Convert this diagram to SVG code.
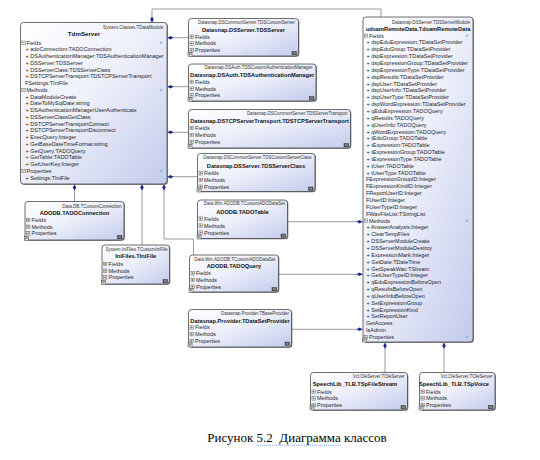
<svg xmlns="http://www.w3.org/2000/svg" xmlns:xlink="http://www.w3.org/1999/xlink" width="540" height="460" viewBox="0 0 540 460">
<defs>
<linearGradient id="g" x1="0" y1="0" x2="1" y2="1">
<stop offset="0" stop-color="#ffffff"/>
<stop offset="0.45" stop-color="#eef0fa"/>
<stop offset="1" stop-color="#c3cbec"/>
</linearGradient>
<g id="mi"><rect x="0" y="-1.7" width="3.4" height="3.4" fill="#fff" stroke="#444" stroke-width="0.45"/><path d="M0.7 0h2" stroke="#222" stroke-width="0.5"/></g>
<g id="pl"><rect x="0" y="-1.7" width="3.4" height="3.4" fill="#fff" stroke="#444" stroke-width="0.45"/><path d="M0.7 0h2M1.7 -1v2" stroke="#222" stroke-width="0.5"/></g>
<g id="bl"><rect x="0" y="0" width="4" height="4" fill="#fff" stroke="#333" stroke-width="0.5"/><path d="M1.2 3.3V0.9h1.2a0.7 0.7 0 0 1 0 1.4H1.2" fill="none" stroke="#222" stroke-width="0.5"/></g>
<g id="br"><rect x="0" y="0" width="4.5" height="3.4" fill="#555" stroke="#222" stroke-width="0.4"/><path d="M1 1.2h2.5M1 2.2h2.5" stroke="#ddd" stroke-width="0.4"/></g>
<g id="ex"><path d="M-1.3 0h2.6M0 -1.3v2.6" stroke="#5aa0e0" stroke-width="0.6"/></g>
<path id="dv" d="M0 0l1.8 3l-1.8 3l-1.8 -3z"/>
<path id="dh" d="M0 0l3 -1.8l3 1.8l-3 1.8z"/>
</defs>
<style>
.box{fill:url(#g);stroke:#4a4a4a;stroke-width:0.8}
.sh{fill:#6a6a6a}
.hdr{font-family:"Liberation Sans",Arial,sans-serif;font-size:4.5px;fill:#333;text-anchor:end}
.ttl{font-family:"Liberation Sans",Arial,sans-serif;font-size:5.7px;font-weight:bold;fill:#111;text-anchor:middle}
.m{font-family:"Liberation Sans",Arial,sans-serif;font-size:5.5px;fill:#1e1e2a}
.con{stroke:#7d7f8c;stroke-width:0.8;fill:none}
.dia{fill:#1c2a8e}
.cap{font-family:"Liberation Serif","Times New Roman",serif;font-size:13px;fill:#000;text-anchor:middle}
</style>
<rect width="540" height="460" fill="#ffffff"/>

<g id="connectors">
<path class="con" d="M152 22.5V9H381V17"/>
<use href="#dv" x="152" y="16.5" class="dia"/>
<path class="con" d="M167 37.7H188.5"/>
<use href="#dh" x="167.5" y="37.7" class="dia"/>
<path class="con" d="M167 86.7H188.5"/>
<use href="#dh" x="167.5" y="86.7" class="dia"/>
<path class="con" d="M167 132.3H188.5"/>
<use href="#dh" x="167.5" y="132.3" class="dia"/>
<path class="con" d="M167 176.7H197.5"/>
<use href="#dh" x="167.5" y="176.7" class="dia"/>
<path class="con" d="M74.5 184V201.5"/>
<use href="#dv" x="74.5" y="184.5" class="dia"/>
<path class="con" d="M142 184V245"/>
<use href="#dv" x="142" y="184.5" class="dia"/>
<path class="con" d="M164 184V239H193.5V255"/>
<use href="#dv" x="164" y="184.5" class="dia"/>
<path class="con" d="M287.7 221.7H363"/>
<use href="#dh" x="356.5" y="221.7" class="dia"/>
<path class="con" d="M278.5 274.3H363"/>
<use href="#dh" x="356.5" y="274.3" class="dia"/>
<path class="con" d="M291.7 329.3H363"/>
<use href="#dh" x="356.5" y="329.3" class="dia"/>
<path class="con" d="M385 342.5V372.5"/>
<use href="#dv" x="385" y="342.8" class="dia"/>
<path class="con" d="M444 342.5V372.5"/>
<use href="#dv" x="444" y="342.8" class="dia"/>
</g>

<g id="TdmServer">
<rect class="sh" x="21.3" y="23.3" width="146.5" height="161.5" rx="3"/>
<rect class="box" x="20.5" y="22.5" width="146.5" height="161.5" rx="3"/>
<text class="hdr" x="163.5" y="28.6">System.Classes.TDataModule</text>
<text class="ttl" x="84" y="36.1" style="font-size:6.2px">TdmServer</text>
<use href="#mi" x="21.8" y="42.7"/><text class="m" x="26.5" y="44.6">Fields</text><use href="#ex" x="161" y="42.7"/>
<text class="m" x="25.5" y="51.35">+ adoConnection:TADOConnection</text>
<text class="m" x="25.5" y="58.1">+ DSAuthenticationManager:TDSAuthenticationManager</text>
<text class="m" x="25.5" y="64.85">+ DSServer:TDSServer</text>
<text class="m" x="25.5" y="71.6">+ DSServerClass:TDSServerClass</text>
<text class="m" x="25.5" y="78.35">+ DSTCPServerTransport:TDSTCPServerTransport</text>
<text class="m" x="25" y="85.1">FSettings:TIniFile</text>
<use href="#mi" x="21.8" y="89.95"/><text class="m" x="26.5" y="91.85">Methods</text><use href="#ex" x="161" y="89.95"/>
<text class="m" x="25.5" y="98.6">+ DataModuleCreate</text>
<text class="m" x="25.5" y="105.35">+ DateToMySqlDate:string</text>
<text class="m" x="25.5" y="112.1">+ DSAuthenticationManagerUserAuthenticate</text>
<text class="m" x="25.5" y="118.85">+ DSServerClassGetClass</text>
<text class="m" x="25.5" y="125.6">+ DSTCPServerTransportConnect</text>
<text class="m" x="25.5" y="132.35">+ DSTCPServerTransportDisconnect</text>
<text class="m" x="25.5" y="139.1">+ ExecQuery:Integer</text>
<text class="m" x="25.5" y="145.85">+ GetBaseDateTimeFormat:string</text>
<text class="m" x="25.5" y="152.6">+ GetQuery:TADOQuery</text>
<text class="m" x="25.5" y="159.35">+ GetTable:TADOTable</text>
<text class="m" x="25.5" y="166.1">+ GetUserKey:Integer</text>
<use href="#mi" x="21.8" y="170.95"/><text class="m" x="26.5" y="172.85">Properties</text><use href="#ex" x="161" y="170.95"/>
<text class="m" x="25.5" y="179.6">+ Settings:TIniFile</text>
</g>

<g id="TDSServer">
<rect class="sh" x="189.3" y="19.3" width="110" height="37.5" rx="3"/>
<rect class="box" x="188.5" y="18.5" width="110" height="37.5" rx="3"/>
<text class="hdr" x="295" y="24.3">Datasnap.DSCommonServer.TDSCustomServer</text>
<text class="ttl" x="243.5" y="32.1">Datasnap.DSServer.TDSServer</text>
<use href="#pl" x="190" y="36.7"/><text class="m" x="195" y="38.6">Fields</text>
<use href="#pl" x="190" y="43.5"/><text class="m" x="195" y="45.4">Methods</text>
<use href="#pl" x="190" y="50.3"/><text class="m" x="195" y="52.2">Properties</text>
<use href="#bl" x="188" y="52.5"/><use href="#br" x="292" y="51.5"/>
</g>

<g id="TDSAuthenticationManager">
<rect class="sh" x="189.3" y="64.8" width="127.5" height="37" rx="3"/>
<rect class="box" x="188.5" y="64" width="127.5" height="37" rx="3"/>
<text class="hdr" x="312.5" y="69.3">Datasnap.DSAuth.TDSCustomAuthenticationManager</text>
<text class="ttl" x="252.2" y="76.6">Datasnap.DSAuth.TDSAuthenticationManager</text>
<use href="#pl" x="190" y="81.8"/><text class="m" x="195" y="83.7">Fields</text>
<use href="#pl" x="190" y="88.6"/><text class="m" x="195" y="90.5">Methods</text>
<use href="#pl" x="190" y="95.4"/><text class="m" x="195" y="97.3">Properties</text>
<use href="#bl" x="188" y="97.5"/><use href="#br" x="309.5" y="96.5"/>
</g>

<g id="TDSTCPServerTransport">
<rect class="sh" x="189.3" y="110.3" width="162" height="38.5" rx="3"/>
<rect class="box" x="188.5" y="109.5" width="162" height="38.5" rx="3"/>
<text class="hdr" x="347.5" y="115.1">Datasnap.DSCommonServer.TDSServerTransport</text>
<text class="ttl" x="269.5" y="122.8">Datasnap.DSTCPServerTransport.TDSTCPServerTransport</text>
<use href="#pl" x="190" y="128"/><text class="m" x="195" y="129.9">Fields</text>
<use href="#pl" x="190" y="134.9"/><text class="m" x="195" y="136.8">Methods</text>
<use href="#pl" x="190" y="141.8"/><text class="m" x="195" y="143.7">Properties</text>
<use href="#bl" x="188" y="144.5"/><use href="#br" x="344" y="143.5"/>
</g>

<g id="TDSServerClass">
<rect class="sh" x="198.3" y="154.3" width="117.5" height="38" rx="3"/>
<rect class="box" x="197.5" y="153.5" width="117.5" height="38" rx="3"/>
<text class="hdr" x="311.5" y="159.3">Datasnap.DSCommonServer.TDSCustomServerClass</text>
<text class="ttl" x="256" y="168.1">Datasnap.DSServer.TDSServerClass</text>
<use href="#pl" x="199" y="173.3"/><text class="m" x="204" y="175.2">Fields</text>
<use href="#pl" x="199" y="180"/><text class="m" x="204" y="181.9">Methods</text>
<use href="#pl" x="199" y="186.7"/><text class="m" x="204" y="188.6">Properties</text>
<use href="#bl" x="197" y="188"/><use href="#br" x="308.5" y="187"/>
</g>

<g id="TADOTable">
<rect class="sh" x="198.3" y="200.8" width="90" height="38.5" rx="3"/>
<rect class="box" x="197.5" y="200" width="90" height="38.5" rx="3"/>
<text class="hdr" x="285" y="205.3">Data.Win.ADODB.TCustomADODataSet</text>
<text class="ttl" x="242.5" y="213.6">ADODB.TADOTable</text>
<use href="#pl" x="199" y="218.6"/><text class="m" x="204" y="220.5">Fields</text>
<use href="#pl" x="199" y="225.6"/><text class="m" x="204" y="227.5">Methods</text>
<use href="#pl" x="199" y="232.6"/><text class="m" x="204" y="234.5">Properties</text>
<use href="#bl" x="197" y="235"/><use href="#br" x="281" y="234"/>
</g>

<g id="TADOConnection">
<rect class="sh" x="25.8" y="202.3" width="99" height="38.5" rx="3"/>
<rect class="box" x="25" y="201.5" width="99" height="38.5" rx="3"/>
<text class="hdr" x="121.5" y="207.6">Data.DB.TCustomConnection</text>
<text class="ttl" x="74.5" y="214.8">ADODB.TADOConnection</text>
<use href="#pl" x="26.5" y="220"/><text class="m" x="31.5" y="221.9">Fields</text>
<use href="#pl" x="26.5" y="226.7"/><text class="m" x="31.5" y="228.6">Methods</text>
<use href="#pl" x="26.5" y="233.4"/><text class="m" x="31.5" y="235.3">Properties</text>
<use href="#bl" x="24.5" y="236.5"/><use href="#br" x="117.5" y="235.5"/>
</g>

<g id="TIniFile">
<rect class="sh" x="102.8" y="245.8" width="67.5" height="39" rx="3"/>
<rect class="box" x="102" y="245" width="67.5" height="39" rx="3"/>
<text class="hdr" x="167.5" y="250.6">System.IniFiles.TCustomIniFile</text>
<text class="ttl" x="135.7" y="258.1">IniFiles.TIniFile</text>
<use href="#pl" x="103.5" y="264"/><text class="m" x="108.5" y="265.9">Fields</text>
<use href="#pl" x="103.5" y="270.7"/><text class="m" x="108.5" y="272.6">Methods</text>
<use href="#pl" x="103.5" y="277.4"/><text class="m" x="108.5" y="279.3">Properties</text>
<use href="#bl" x="101.5" y="280.5"/><use href="#br" x="163" y="279.5"/>
</g>

<g id="TADOQuery">
<rect class="sh" x="190.3" y="255.8" width="89" height="37" rx="3"/>
<rect class="box" x="189.5" y="255" width="89" height="37" rx="3"/>
<text class="hdr" x="275.5" y="260.6">Data.Win.ADODB.TCustomADODataSet</text>
<text class="ttl" x="234" y="268.1">ADODB.TADOQuery</text>
<use href="#pl" x="191" y="273.3"/><text class="m" x="196" y="275.2">Fields</text>
<use href="#pl" x="191" y="280"/><text class="m" x="196" y="281.9">Methods</text>
<use href="#pl" x="191" y="286.7"/><text class="m" x="196" y="288.6">Properties</text>
<use href="#bl" x="189" y="288.5"/><use href="#br" x="272" y="287.5"/>
</g>

<g id="TDataSetProvider">
<rect class="sh" x="189.3" y="310.3" width="103" height="37.5" rx="3"/>
<rect class="box" x="188.5" y="309.5" width="103" height="37.5" rx="3"/>
<text class="hdr" x="289" y="314.6">Datasnap.Provider.TBaseProvider</text>
<text class="ttl" x="240" y="322.8">Datasnap.Provider.TDataSetProvider</text>
<use href="#pl" x="190" y="327.5"/><text class="m" x="195" y="329.4">Fields</text>
<use href="#pl" x="190" y="334.2"/><text class="m" x="195" y="336.1">Methods</text>
<use href="#pl" x="190" y="340.9"/><text class="m" x="195" y="342.8">Properties</text>
<use href="#bl" x="188" y="343"/><use href="#br" x="285" y="342"/>
</g>

<g id="TdsamRemoteData">
<rect class="sh" x="363.8" y="17.8" width="110" height="325" rx="3"/>
<rect class="box" x="363" y="17" width="110" height="325" rx="3"/>
<text class="hdr" x="470" y="23.6">Datasnap.DSServer.TDSServerModule</text>
<text class="ttl" x="418" y="31.4">udsamRemoteData.TdsamRemoteData</text>
<use href="#mi" x="364.3" y="35.7"/><text class="m" x="369" y="37.6">Fields</text><use href="#ex" x="467" y="35.7"/>
<text class="m" x="366.5" y="44.45">+ dspEduExpression:TDataSetProvider</text>
<text class="m" x="366.5" y="51.3">+ dspEduGroup:TDataSetProvider</text>
<text class="m" x="366.5" y="58.15">+ dspExpression:TDataSetProvider</text>
<text class="m" x="366.5" y="65">+ dspExpressionGroup:TDataSetProvider</text>
<text class="m" x="366.5" y="71.85">+ dspExpressionType:TDataSetProvider</text>
<text class="m" x="366.5" y="78.7">+ dspResults:TDataSetProvider</text>
<text class="m" x="366.5" y="85.55">+ dspUser:TDataSetProvider</text>
<text class="m" x="366.5" y="92.4">+ dspUserInfo:TDataSetProvider</text>
<text class="m" x="366.5" y="99.25">+ dspUserType:TDataSetProvider</text>
<text class="m" x="366.5" y="106.1">+ dspWordExpression:TDataSetProvider</text>
<text class="m" x="366.5" y="112.95">+ qEduExpression:TADOQuery</text>
<text class="m" x="366.5" y="119.8">+ qResults:TADOQuery</text>
<text class="m" x="366.5" y="126.65">+ qUserInfo:TADOQuery</text>
<text class="m" x="366.5" y="133.5">+ qWordExpression:TADOQuery</text>
<text class="m" x="366.5" y="140.35">+ tEduGroup:TADOTable</text>
<text class="m" x="366.5" y="147.2">+ tExpression:TADOTable</text>
<text class="m" x="366.5" y="154.05">+ tExpressionGroup:TADOTable</text>
<text class="m" x="366.5" y="160.9">+ tExpressionType:TADOTable</text>
<text class="m" x="366.5" y="167.75">+ tUser:TADOTable</text>
<text class="m" x="366.5" y="174.6">+ tUserType:TADOTable</text>
<text class="m" x="366" y="181.45">FExpressionGroupID:Integer</text>
<text class="m" x="366" y="188.3">FExpressionKindID:Integer</text>
<text class="m" x="366" y="195.15">FReportUserID:Integer</text>
<text class="m" x="366" y="202">FUserID:Integer</text>
<text class="m" x="366" y="208.85">FUserTypeID:Integer</text>
<text class="m" x="366" y="215.7">FWavFileList:TStringList</text>
<use href="#mi" x="364.3" y="220.65"/><text class="m" x="369" y="222.55">Methods</text><use href="#ex" x="467" y="220.65"/>
<text class="m" x="366.5" y="229.4">+ AnswerAnalysis:Integer</text>
<text class="m" x="366.5" y="236.25">+ ClearTempFiles</text>
<text class="m" x="366.5" y="243.1">+ DSServerModuleCreate</text>
<text class="m" x="366.5" y="249.95">+ DSServerModuleDestroy</text>
<text class="m" x="366.5" y="256.8">+ ExpressionMark:Integer</text>
<text class="m" x="366.5" y="263.65">+ GetDate:TDateTime</text>
<text class="m" x="366.5" y="270.5">+ GetSpeakWav:TStream</text>
<text class="m" x="366.5" y="277.35">+ GetUserTypeID:Integer</text>
<text class="m" x="366.5" y="284.2">+ qEduExpressionBeforeOpen</text>
<text class="m" x="366.5" y="291.05">+ qResultsBeforeOpen</text>
<text class="m" x="366.5" y="297.9">+ qUserInfoBeforeOpen</text>
<text class="m" x="366.5" y="304.75">+ SetExpressionGroup</text>
<text class="m" x="366.5" y="311.6">+ SetExpressionKind</text>
<text class="m" x="366.5" y="318.45">+ SetReportUser</text>
<text class="m" x="366" y="325.3">GetAccess</text>
<text class="m" x="366" y="332.15">IsAdmin</text>
<use href="#mi" x="364.3" y="337.1"/><text class="m" x="369" y="339">Properties</text><use href="#ex" x="467" y="337.1"/>
<use href="#bl" x="362.5" y="338"/>
</g>

<g id="TSpFileStream">
<rect class="sh" x="311.3" y="373.3" width="97" height="37.5" rx="3"/>
<rect class="box" x="310.5" y="372.5" width="97" height="37.5" rx="3"/>
<text class="hdr" x="404.5" y="378.3">Vcl.OleServer.TOleServer</text>
<text class="ttl" x="355" y="386.1">SpeechLib_TLB.TSpFileStream</text>
<use href="#pl" x="312" y="391.7"/><text class="m" x="317" y="393.6">Fields</text>
<use href="#pl" x="312" y="398.4"/><text class="m" x="317" y="400.3">Methods</text>
<use href="#pl" x="312" y="405.1"/><text class="m" x="317" y="407">Properties</text>
<use href="#bl" x="310" y="406"/><use href="#br" x="401" y="405.5"/>
</g>

<g id="TSpVoice">
<rect class="sh" x="420.3" y="373.3" width="75.5" height="37.5" rx="3"/>
<rect class="box" x="419.5" y="372.5" width="75.5" height="37.5" rx="3"/>
<text class="hdr" x="492.5" y="378.3">Vcl.OleServer.TOleServer</text>
<text class="ttl" x="454" y="386.1">SpeechLib_TLB.TSpVoice</text>
<use href="#pl" x="421" y="391.7"/><text class="m" x="426" y="393.6">Fields</text>
<use href="#pl" x="421" y="398.4"/><text class="m" x="426" y="400.3">Methods</text>
<use href="#pl" x="421" y="405.1"/><text class="m" x="426" y="407">Properties</text>
<use href="#bl" x="419" y="406"/><use href="#br" x="488.5" y="405.5"/>
</g>

<text class="cap" x="297" y="442">Рисунок 5.2&#160; Диаграмма классов</text>
<path d="M256 445.3h86" stroke="#6f86e6" stroke-width="0.7" stroke-dasharray="1.2 0.8" fill="none"/>
</svg>
